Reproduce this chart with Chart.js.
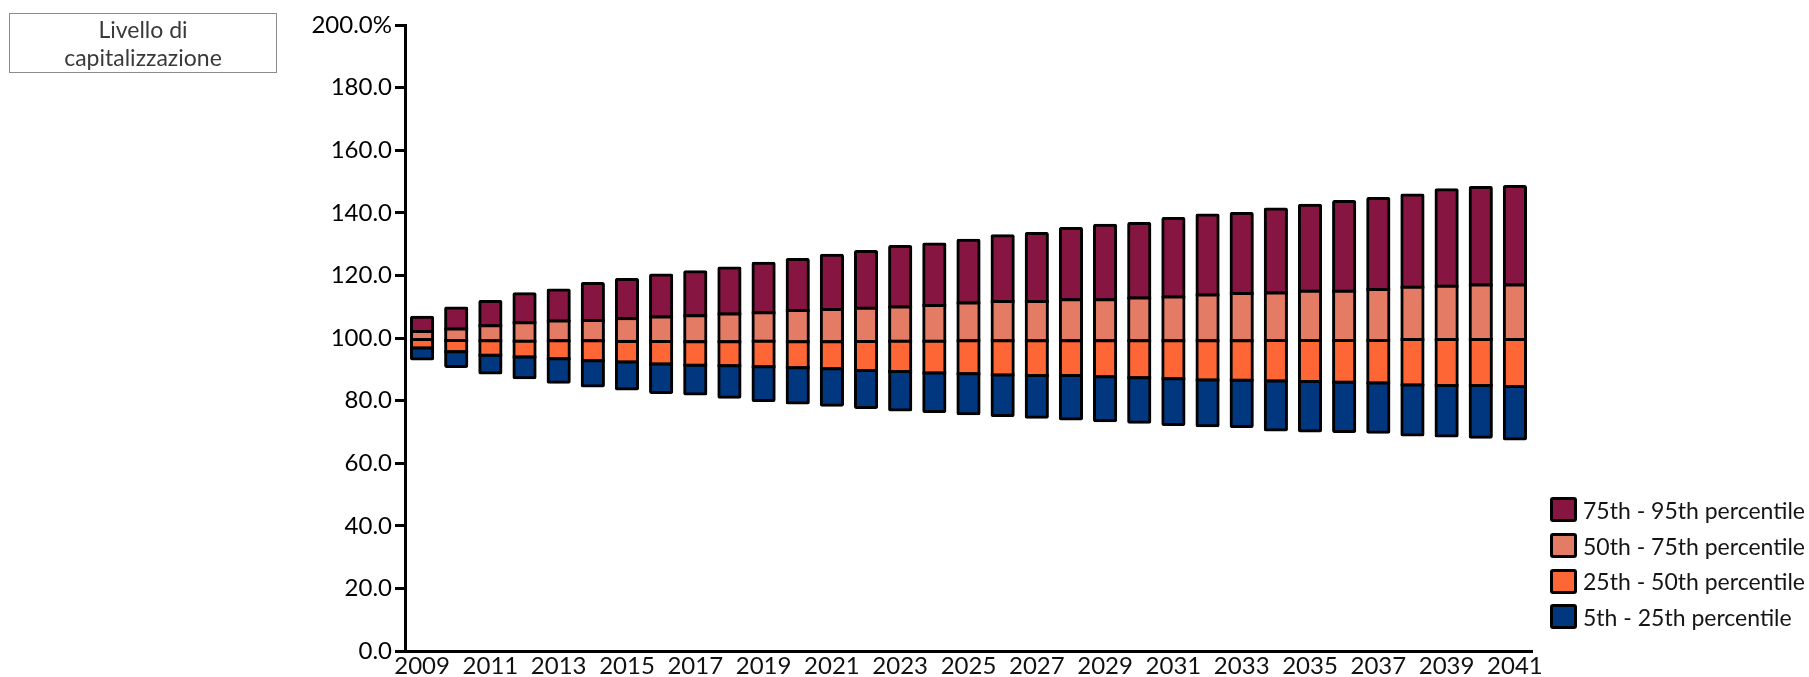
<!DOCTYPE html>
<html lang="it">
<head>
<meta charset="utf-8">
<title>Livello di capitalizzazione</title>
<script src="https://cdn.jsdelivr.net/npm/chart.js@4/dist/chart.umd.min.js"></script>
<style>
  html, body { margin: 0; padding: 0; background: #fff; }
  #wrap { position: relative; width: 1809px; height: 677px; overflow: hidden; font-family: Lato, "Noto Sans", sans-serif; }
  #c { position: absolute; left: 0; top: 0; }
  #titleBox {
    position: absolute; left: 9px; top: 13px; width: 266px; height: 58px;
    border: 1px solid #8c8c8c; color: #3a3a3a; font-size: 23px; line-height: 28px;
    text-align: center; display: flex; flex-direction: column; justify-content: center;
  }
  #legend { position: absolute; left: 1550px; top: 492px; }
  .item { display: flex; align-items: center; height: 35.7px; }
  .swatch { box-sizing: border-box; width: 27px; height: 25px; border: 3px solid #000; border-radius: 3px; margin-right: 6px; }
  .label { font-size: 23px; color: #151515; white-space: nowrap; }
</style>
</head>
<body>
<div id="wrap">
  <canvas id="c" width="1809" height="677"></canvas>
  <div id="titleBox"><div>Livello di</div><div>capitalizzazione</div></div>
  <div id="legend"></div>
</div>
<script>
// Years on the category axis
const years = [2009, 2010, 2011, 2012, 2013, 2014, 2015, 2016, 2017, 2018, 2019,
  2020, 2021, 2022, 2023, 2024, 2025, 2026, 2027, 2028, 2029, 2030,
  2031, 2032, 2033, 2034, 2035, 2036, 2037, 2038, 2039, 2040, 2041];

// Percentile levels of the funding ratio (%), one value per year
const p5 = [93.3, 90.9, 88.8, 87.3, 85.9, 84.7, 83.7, 82.6, 82.1, 81.1, 80.0,
  79.2, 78.5, 77.8, 77.0, 76.5, 75.8, 75.2, 74.7, 74.1, 73.6, 73.1,
  72.4, 72.0, 71.7, 70.6, 70.3, 70.1, 69.9, 69.0, 68.7, 68.3, 67.7];
const p25 = [96.8, 95.6, 94.5, 93.9, 93.4, 92.7, 92.3, 91.7, 91.3, 91.1, 90.8,
  90.5, 90.2, 89.6, 89.3, 88.8, 88.6, 88.2, 88.0, 88.0, 87.6, 87.3,
  87.0, 86.6, 86.5, 86.3, 86.1, 85.9, 85.6, 85.0, 84.8, 84.8, 84.5];
const p50 = [99.5, 99.2, 99.1, 99.0, 99.1, 99.1, 98.9, 98.9, 98.8, 98.8, 99.0,
  98.8, 98.8, 98.9, 99.0, 99.0, 99.1, 99.1, 99.1, 99.1, 99.1, 99.1,
  99.1, 99.1, 99.1, 99.2, 99.2, 99.2, 99.2, 99.5, 99.5, 99.5, 99.5];
const p75 = [102.1, 102.9, 103.9, 104.9, 105.4, 105.6, 106.2, 106.7, 107.1, 107.7, 108.1,
  108.8, 109.1, 109.5, 109.9, 110.4, 111.2, 111.7, 111.7, 112.2, 112.2, 112.8,
  113.1, 113.7, 114.2, 114.4, 114.9, 114.9, 115.5, 116.2, 116.5, 116.9, 116.9];
const p95 = [106.6, 109.6, 111.7, 114.1, 115.3, 117.4, 118.7, 120.1, 121.2, 122.4, 123.9,
  125.1, 126.4, 127.6, 129.2, 130.0, 131.2, 132.7, 133.4, 135.0, 136.0, 136.6,
  138.2, 139.3, 139.8, 141.2, 142.4, 143.6, 144.6, 145.7, 147.4, 148.1, 148.4];

// Band names, bottom band first
const seriesNames = ['5th - 25th percentile', '25th - 50th percentile',
  '50th - 75th percentile', '75th - 95th percentile'];
const seriesColors = ['#00377f', '#ff6636', '#e47b64', '#861641'];

// Value-axis labels from 0 to 200
const yTickLabels = ['0.0', '20.0', '40.0', '60.0', '80.0', '100.0',
  '120.0', '140.0', '160.0', '180.0', '200.0%'];

const bounds = [p5, p25, p50, p75, p95];
const FONT = { family: 'Lato, "Noto Sans", sans-serif', size: 24 };

// Each band is a floating bar; the outline is centred on the band edges
// (inflated by half the border width), so shared edges draw as a single line.
const datasets = seriesNames.map((name, s) => {
  const isBottom = s === 0, isTop = s === seriesNames.length - 1;
  return {
    label: name,
    data: years.map((_, k) => [bounds[s][k], bounds[s + 1][k]]),
    backgroundColor: seriesColors[s],
    borderColor: '#000',
    borderSkipped: false,
    borderWidth: 3,
    inflateAmount: 1.5,
    borderRadius: isTop ? { topLeft: 2, topRight: 2 } : (isBottom ? { bottomLeft: 2, bottomRight: 2 } : 0),
    categoryPercentage: 0.62,
    barPercentage: 1.0
  };
});

const chart = new Chart(document.getElementById('c'), {
  type: 'bar',
  data: { labels: years.map(String), datasets },
  options: {
    responsive: false,
    animation: false,
    devicePixelRatio: 1,
    layout: { padding: { top: 25, right: 277, bottom: 0, left: 0 } },
    plugins: { legend: { display: false }, tooltip: { enabled: false } },
    scales: {
      x: {
        stacked: true,
        grid: { display: false, drawTicks: false },
        border: { display: true, color: '#000', width: 3 },
        ticks: {
          autoSkip: false, maxRotation: 0, minRotation: 0, padding: 1,
          color: '#111', font: FONT,
          callback: (v, i) => (i % 2 === 0 ? String(years[i]) : '')
        },
        afterFit: (s) => { s.height = 26; }
      },
      y: {
        min: 0, max: 200,
        ticks: {
          stepSize: 20, padding: 3, color: '#000', font: FONT,
          callback: (v) => yTickLabels[Math.round(v / 20)]
        },
        grid: { drawOnChartArea: false, drawTicks: true, tickLength: 10, tickWidth: 3, tickColor: '#000' },
        border: { display: true, color: '#000', width: 3 },
        afterFit: (s) => { s.width = 405; }
      }
    }
  }
});

// Legend, top band first
const legend = document.getElementById('legend');
chart.data.datasets.slice().reverse().forEach((ds) => {
  const item = document.createElement('div');
  item.className = 'item';
  const sw = document.createElement('div');
  sw.className = 'swatch';
  sw.style.background = ds.backgroundColor;
  const lb = document.createElement('div');
  lb.className = 'label';
  lb.textContent = ds.label;
  item.appendChild(sw);
  item.appendChild(lb);
  legend.appendChild(item);
});
</script>
</body>
</html>
